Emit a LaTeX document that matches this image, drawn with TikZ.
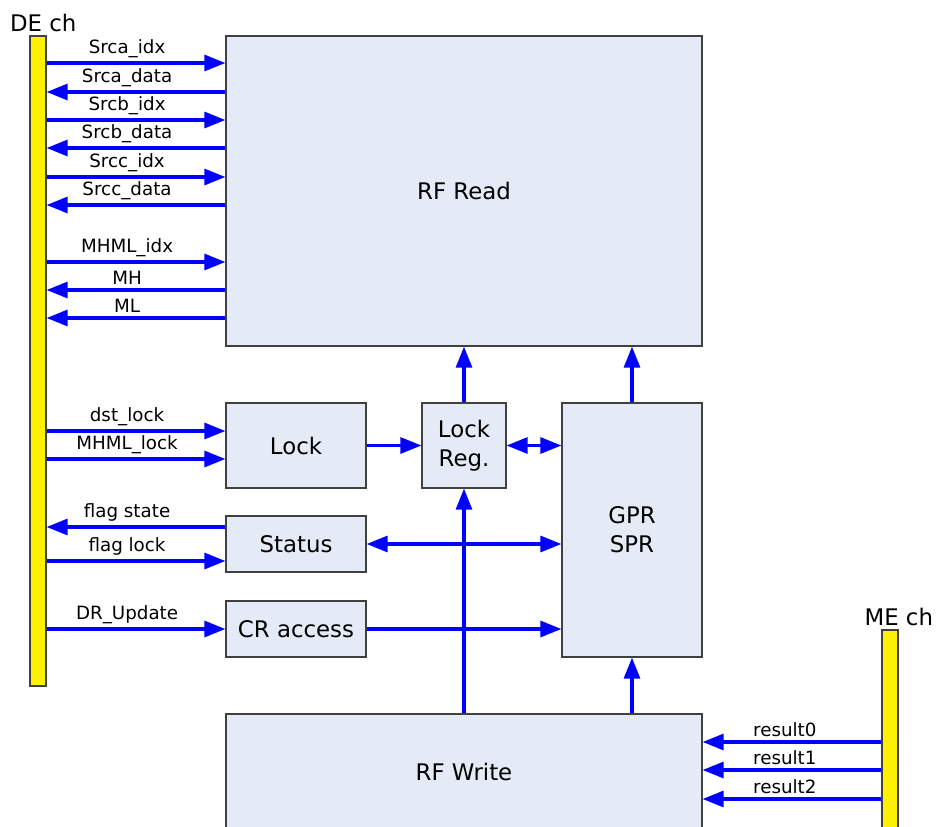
\documentclass[tikz,border=0pt]{standalone}
\usepackage{fontspec}
\setmainfont{DejaVu Sans}
\usepackage{tikz}
\usetikzlibrary{arrows.meta}
\definecolor{boxfill}{RGB}{228,235,246}
\definecolor{boxline}{RGB}{64,64,64}
\tikzstyle{block}=[rectangle, draw=boxline, fill=boxfill, line width=0.6pt, inner sep=0pt, align=center, font=\fontsize{13}{16.4}\selectfont]
\tikzstyle{chan}=[rectangle, draw=boxline, fill=yellow, line width=0.6pt, inner sep=0pt, minimum width=0.32cm]
\tikzstyle{chanlabel}=[font=\fontsize{13}{16}\selectfont, inner sep=2pt, xshift=3pt]
\tikzstyle{sig}=[draw=blue, fill=blue, line width=2pt, >={Triangle[length=12pt,width=9pt]}]
\tikzstyle{siglabel}=[above, inner sep=2pt, text=black, font=\fontsize{10.4}{12}\selectfont]
\newcommand{\block}{\node[block]}

\begin{document}
\begin{tikzpicture}
	\useasboundingbox (0,0) rectangle (18.72,-16.54);
	\clip (0,0) rectangle (18.72,-16.54);
	%% the channels
	\node[chan, minimum height=13cm, label={[chanlabel]above:DE ch}] (de) at (0.76,-7.22) {};
	\node[chan, minimum height=4.2cm, label={[chanlabel, xshift=2pt]above:ME ch}] (me) at (17.8,-14.7) {};
	%% the blocks
	\block[minimum width=9.52cm, minimum height=6.2cm] (rfread) at (9.28,-3.82) {RF Read};
	\block[minimum width=2.8cm, minimum height=1.7cm] (lock) at (5.92,-8.91) {Lock};
	\block[minimum width=1.68cm, minimum height=1.7cm] (lockreg) at (9.28,-8.91) {Lock\\Reg.};
	\block[minimum width=2.8cm, minimum height=5.08cm] (gpr) at (12.64,-10.6) {GPR\\SPR};
	\block[minimum width=2.8cm, minimum height=1.12cm] (status) at (5.92,-10.88) {Status};
	\block[minimum width=2.8cm, minimum height=1.12cm] (cr) at (5.92,-12.58) {CR access};
	\block[minimum width=9.52cm, minimum height=2.32cm] (rfwrite) at (9.28,-15.44) {RF Write};
	%% DE ch to RF Read
	\foreach \y/\lab/\dir in {-1.26/Srca\_idx/->, -1.84/Srca\_data/<-,
		-2.40/Srcb\_idx/->, -2.96/Srcb\_data/<-, -3.54/Srcc\_idx/->,
		-4.10/Srcc\_data/<-, -5.24/MHML\_idx/->, -5.80/MH/<-, -6.36/ML/<-}
		\draw[sig,\dir] (de.east |- 0,\y) -- (rfread.west |- 0,\y)
			node[siglabel, pos=0.45] {\lab};
	%% DE ch to the small blocks
	\draw[sig,->] (de.east |- 0,-8.62) -- (lock.west |- 0,-8.62) node[siglabel, pos=0.45] {dst\_lock};
	\draw[sig,->] (de.east |- 0,-9.18) -- (lock.west |- 0,-9.18) node[siglabel, pos=0.45] {MHML\_lock};
	\draw[sig,<-] (de.east |- 0,-10.54) -- (status.west |- 0,-10.54) node[siglabel, pos=0.45] {flag state};
	\draw[sig,->] (de.east |- 0,-11.22) -- (status.west |- 0,-11.22) node[siglabel, pos=0.45] {flag lock};
	\draw[sig,->] (de.east |- cr) -- (cr.west) node[siglabel, pos=0.45] {DR\_Update};
	%% ME ch to RF Write
	\foreach \y/\lab in {-14.84/result0, -15.40/result1, -15.98/result2}
		\draw[sig,->] (me.west |- 0,\y) -- (rfwrite.east |- 0,\y)
			node[siglabel, pos=0.54] {\lab};
	%% for the inner connectors
	\path[sig]
		(lock) edge[->] (lockreg)
		(lockreg.east) edge[<->] (gpr.west |- lockreg)
		(status.east) edge[<->] (gpr.west |- status)
		(cr.east) edge[->] (gpr.west |- cr)
		(lockreg.north) edge[->] (rfread.south)
		(gpr.north) edge[->] (rfread.south -| gpr)
		(rfwrite.north) edge[->] (lockreg.south)
		(rfwrite.north -| gpr) edge[->] (gpr.south)
		;
\end{tikzpicture}
\end{document}
